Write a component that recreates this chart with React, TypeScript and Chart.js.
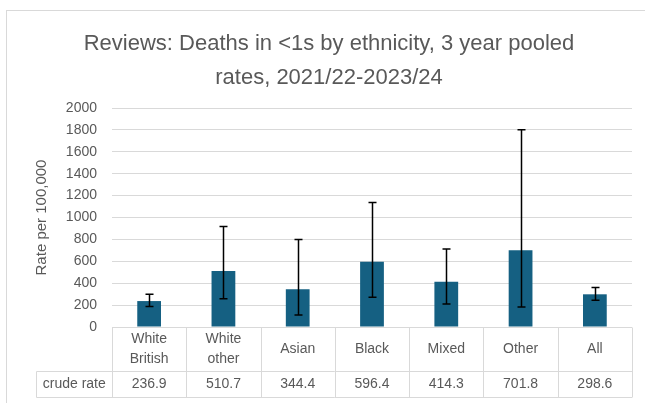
import React, { useEffect, useRef } from "react";
import { Chart, registerables } from "chart.js";

Chart.register(...registerables);

const titleLines = ["Reviews: Deaths in <1s by ethnicity, 3 year pooled", "rates, 2021/22-2023/24"];
const categories: (string | string[])[] = [["White", "British"], ["White", "other"], "Asian", "Black", "Mixed", "Other", "All"];
const crudeRates = [236.9, 510.7, 344.4, 596.4, 414.3, 701.8, 298.6];
const lowerCI = [187, 257, 110, 272, 211, 183, 245];
const upperCI = [300, 917, 798, 1138, 713, 1802, 361];
const yAxisTitle = "Rate per 100,000";
const tableRowLabel = "crude rate";
const yMin = 0;
const yMax = 2000;
const yStep = 200;

const FONT = "'Liberation Sans', Arial, sans-serif";
const TEXT = "#595959";
const LINE = "#d9d9d9";
const BAR = "#156082";

const borderPlugin = {
  id: "chartBorder",
  beforeDraw(chart: any) {
    const ctx = chart.ctx;
    ctx.save();
    ctx.strokeStyle = LINE;
    ctx.lineWidth = 1;
    ctx.strokeRect(6.5, 10.5, 800, 600);
    ctx.restore();
  },
};

const errorBarPlugin = {
  id: "errorBars",
  afterDatasetsDraw(chart: any) {
    const ctx = chart.ctx;
    const y = chart.scales.y;
    const meta = chart.getDatasetMeta(0);
    ctx.save();
    ctx.strokeStyle = "#000000";
    ctx.lineWidth = 1.5;
    meta.data.forEach((bar: any, i: number) => {
      const x = Math.round(bar.x) + 0.5;
      const yl = y.getPixelForValue(lowerCI[i]);
      const yh = y.getPixelForValue(upperCI[i]);
      ctx.beginPath();
      ctx.moveTo(x, yl);
      ctx.lineTo(x, yh);
      ctx.moveTo(x - 4, yl);
      ctx.lineTo(x + 4, yl);
      ctx.moveTo(x - 4, yh);
      ctx.lineTo(x + 4, yh);
      ctx.stroke();
    });
    ctx.restore();
  },
};

const tablePlugin = {
  id: "dataTable",
  afterDraw(chart: any) {
    const ctx = chart.ctx;
    const area = chart.chartArea;
    const xs = chart.scales.x;
    const n = categories.length;
    const w = (area.right - area.left) / n;
    const top = Math.round(area.bottom) + 0.5;
    const mid = top + 44;
    const bottom = mid + 26;
    const labelLeft = 36.5;
    ctx.save();
    ctx.strokeStyle = LINE;
    ctx.lineWidth = 1;
    ctx.beginPath();
    ctx.moveTo(area.left, top);
    ctx.lineTo(area.right, top);
    ctx.moveTo(labelLeft, mid);
    ctx.lineTo(area.right, mid);
    ctx.moveTo(labelLeft, bottom);
    ctx.lineTo(area.right, bottom);
    ctx.moveTo(labelLeft, mid);
    ctx.lineTo(labelLeft, bottom);
    for (let i = 0; i <= n; i++) {
      const x = Math.round(area.left + i * w) + 0.5;
      ctx.moveTo(x, top);
      ctx.lineTo(x, bottom);
    }
    ctx.stroke();

    ctx.fillStyle = TEXT;
    ctx.font = `14px ${FONT}`;
    ctx.textAlign = "center";
    ctx.textBaseline = "middle";
    categories.forEach((c, i) => {
      const cx = xs.getPixelForValue(i);
      const lines = Array.isArray(c) ? c : [c];
      const lh = 20;
      const y0 = (top + mid) / 2 - ((lines.length - 1) * lh) / 2;
      lines.forEach((t, k) => ctx.fillText(t, cx, y0 + k * lh));
      ctx.fillText(crudeRates[i].toFixed(1), cx, (mid + bottom) / 2);
    });
    ctx.fillText(tableRowLabel, (labelLeft + area.left) / 2, (mid + bottom) / 2);
    ctx.restore();
  },
};

export default function App() {
  const ref = useRef<HTMLCanvasElement>(null);
  useEffect(() => {
    if (!ref.current) return;
    const chart = new Chart(ref.current, {
      type: "bar",
      data: {
        labels: categories as any,
        datasets: [
          {
            label: tableRowLabel,
            data: crudeRates,
            backgroundColor: BAR,
            borderWidth: 0,
            categoryPercentage: 1,
            barPercentage: 0.32,
          },
        ],
      },
      options: {
        animation: false,
        responsive: false,
        devicePixelRatio: 1,
        layout: { padding: { top: 0, left: 26, right: 13, bottom: 0 } },
        plugins: {
          legend: { display: false },
          tooltip: { enabled: false },
          title: {
            display: true,
            text: titleLines,
            color: TEXT,
            font: { family: FONT, size: 22, weight: "normal", lineHeight: "34px" as any },
            padding: { top: 27, bottom: 13 },
          },
        },
        scales: {
          x: {
            grid: { display: false },
            border: { display: false },
            ticks: { display: false },
            afterFit(scale: any) {
              scale.height = 76;
            },
          },
          y: {
            min: yMin,
            max: yMax,
            ticks: {
              stepSize: yStep,
              color: TEXT,
              padding: 15,
              font: { family: FONT, size: 14 },
              callback: (v: any) => String(v),
            },
            grid: { color: LINE, lineWidth: 1, drawTicks: false },
            border: { display: false },
            title: {
              display: true,
              text: yAxisTitle,
              color: TEXT,
              font: { family: FONT, size: 15, lineHeight: "18px" as any },
              padding: { top: 7, bottom: 0 },
            },
            afterFit(scale: any) {
              scale.width = 86;
            },
          },
        },
      },
      plugins: [borderPlugin, errorBarPlugin, tablePlugin],
    });
    return () => chart.destroy();
  }, []);
  return (
    <div style={{ position: "fixed", left: 0, top: 0, width: 645, height: 403, background: "#fff" }}>
      <canvas ref={ref} width={645} height={403} />
    </div>
  );
}
